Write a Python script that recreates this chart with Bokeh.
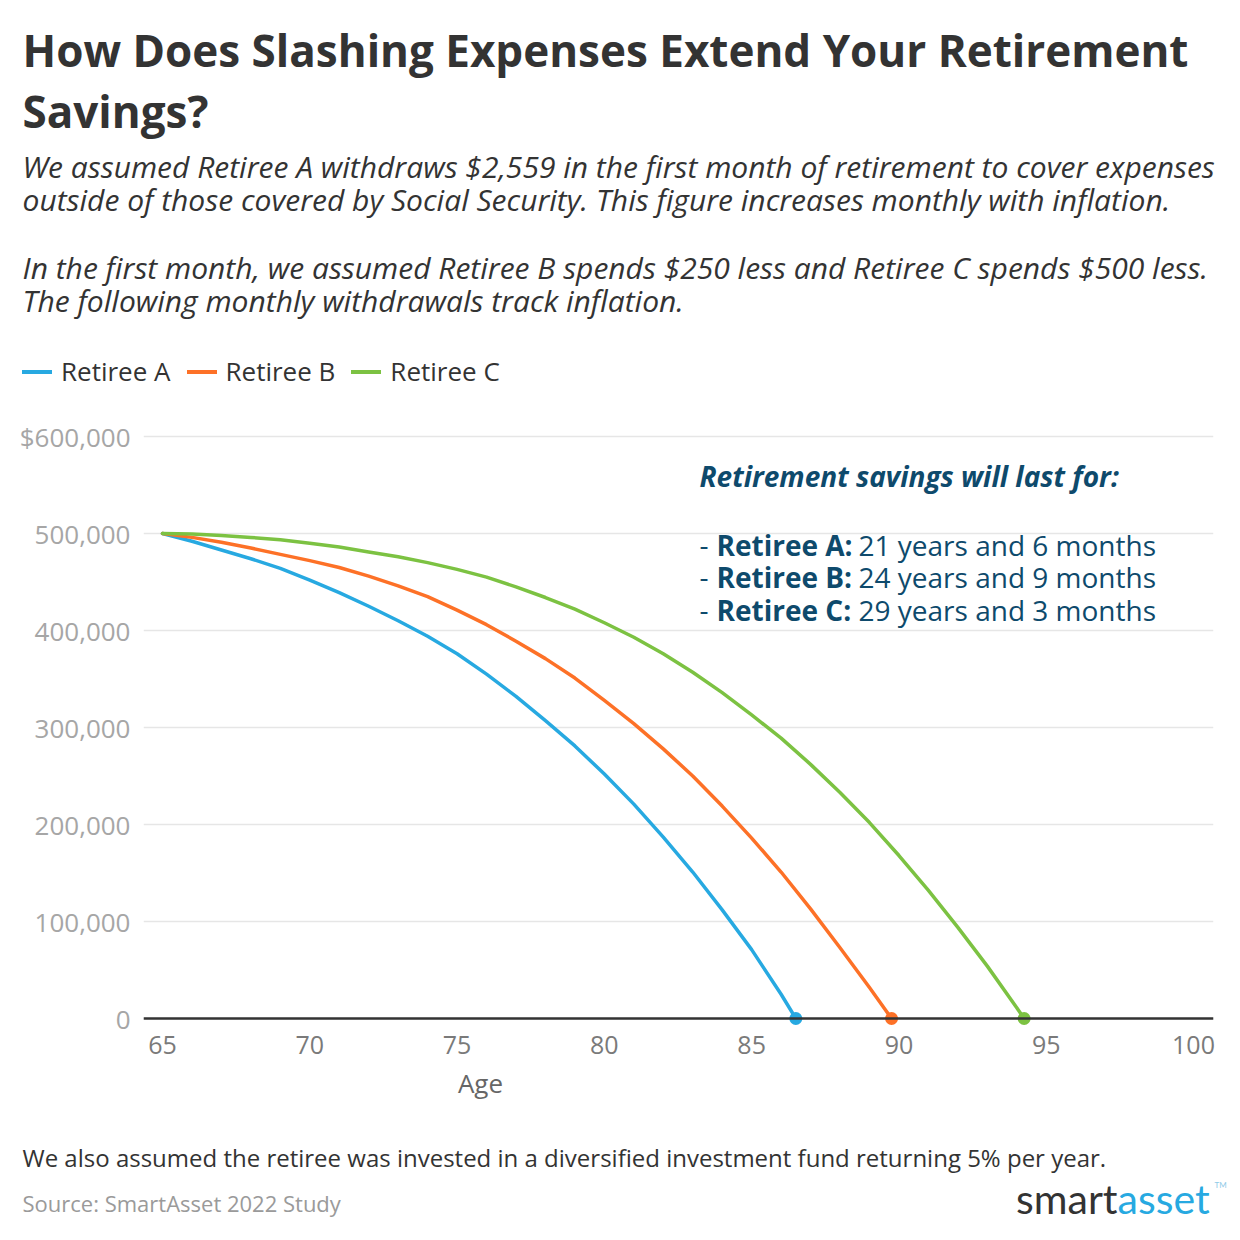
from bokeh.plotting import figure
from bokeh.layouts import column
from bokeh.models import Range1d, FixedTicker, Span, Label, Legend, LegendItem
from bokeh.embed import file_html
from bokeh.resources import INLINE

# ---------------- data ----------------
series_names = ["Retiree A", "Retiree B", "Retiree C"]
series_colors = ["#27a9e1", "#fd7127", "#7cc242"]

ages_a = [65, 66, 67, 68, 69, 70, 71, 72, 73, 74, 75, 76, 77, 78, 79, 80, 81, 82, 83, 84, 85, 86, 86.5]
savings_a = [500, 492, 483, 474, 464, 452, 439, 425, 410, 394, 376, 355, 332, 307, 281, 252, 221, 187, 151, 112, 71, 25, 0]

ages_b = [65, 66, 67, 68, 69, 70, 71, 72, 73, 74, 75, 76, 77, 78, 79, 80, 81, 82, 83, 84, 85, 86, 87, 88, 89, 89.75]
savings_b = [500, 496, 491, 485, 478.5, 472, 465, 456, 446, 435, 421, 406, 389, 371, 351, 328, 304, 278, 250, 219, 186, 151, 113, 73, 32, 0]

ages_c = [65, 66, 67, 68, 69, 70, 71, 72, 73, 74, 75, 76, 77, 78, 79, 80, 81, 82, 83, 84, 85, 86, 87, 88, 89, 90, 91, 92, 93, 94, 94.25]
savings_c = [500, 499.5, 498, 496, 493.5, 490, 486, 481, 476, 470, 463, 455, 445, 434, 422, 408, 393, 376, 357, 336, 313, 289, 262, 233, 202, 168, 132, 94, 54, 11, 0]

x_ticks = [65, 70, 75, 80, 85, 90, 95, 100]
y_ticks = [0, 100000, 200000, 300000, 400000, 500000, 600000]
y_tick_labels = ["0", "100,000", "200,000", "300,000", "400,000", "500,000", "$600,000"]

title_lines = ["How Does Slashing Expenses Extend Your Retirement", "Savings?"]
subtitle_lines = [
    "We assumed Retiree A withdraws $2,559 in the first month of retirement to cover expenses",
    "outside of those covered by Social Security. This figure increases monthly with inflation.",
    "In the first month, we assumed Retiree B spends $250 less and Retiree C spends $500 less.",
    "The following monthly withdrawals track inflation.",
]
x_axis_title = "Age"
note_heading = "Retirement savings will last for:"
note_names = ["Retiree A:", "Retiree B:", "Retiree C:"]
note_durations = ["21 years and 6 months", "24 years and 9 months", "29 years and 3 months"]
footnote = "We also assumed the retiree was invested in a diversified investment fund returning 5% per year."
source = "Source: SmartAsset 2022 Study"

# ---------------- layout constants ----------------
FONT = "Open Sans"
W = 1240
HEAD_H = 400          # header figure: canvas rows 0..400
MAIN_H = 662          # main figure: canvas rows 400..1062
FOOT_H = W - HEAD_H - MAIN_H
FL, FR, FT, FB = 143, 1213, 426, 1028  # plot frame edges on the full canvas
PX_PER_YEAR = (1193 - 162) / 35.0
PX_PER_K = (1018 - 436) / 600.0

x0 = 65 - (162 - FL) / PX_PER_YEAR
x1 = 100 + (FR - 1193) / PX_PER_YEAR
y0 = -(FB - 1018) / PX_PER_K * 1000
y1 = 600000 + (436 - FT) / PX_PER_K * 1000


def blank_fig(height, top):
    f = figure(width=W, height=height, output_backend="svg", toolbar_location=None,
               x_range=Range1d(0, W), y_range=Range1d(top + height, top),
               x_axis_type=None, y_axis_type=None, min_border=0, frame_align=False)
    f.outline_line_color = None
    f.grid.grid_line_color = None
    f.background_fill_color = "white"
    f.border_fill_color = "white"
    return f


def lab(fig, text, cx, cy, size, color, style="normal", align="left", baseline="alphabetic", font=FONT):
    fig.add_layout(Label(x=cx, y=cy, text=text, text_font=font, text_font_size=f"{size}px",
                         text_color=color, text_font_style=style, text_align=align,
                         text_baseline=baseline))


# ---------------- header: title, subtitle, legend ----------------
head = blank_fig(HEAD_H, 0)
lab(head, title_lines[0], 22, 49, 44, "#333333", "bold")
lab(head, title_lines[1], 22, 110, 44, "#333333", "bold")
for txt, yb in zip(subtitle_lines, [166, 199, 267, 300]):
    lab(head, txt, 22, yb, 30, "#333333", "italic")

nan = float("nan")
legend_renderers = [head.line(x=[nan, nan], y=[nan, nan], line_color=c, line_width=4, line_cap="round")
                    for c in series_colors]
legend = Legend(items=[LegendItem(label=n, renderers=[r]) for n, r in zip(series_names, legend_renderers)],
                location=(22, HEAD_H - 389), orientation="horizontal",
                padding=0, margin=0, spacing=16, label_standoff=9,
                glyph_width=30, glyph_height=25, label_height=25,
                label_text_font=FONT, label_text_font_size="26px", label_text_color="#333333",
                border_line_color=None, background_fill_alpha=0)
head.add_layout(legend)

# ---------------- main plot ----------------
p = figure(width=W, height=MAIN_H, output_backend="svg", toolbar_location=None,
           x_range=Range1d(x0, x1), y_range=Range1d(y0, y1),
           min_border_left=FL, min_border_right=W - FR,
           min_border_top=FT - HEAD_H, min_border_bottom=HEAD_H + MAIN_H - FB,
           frame_align=False)
p.outline_line_color = None
p.background_fill_color = "white"
p.border_fill_color = "white"

p.xaxis.ticker = FixedTicker(ticks=x_ticks)
p.xaxis.axis_line_color = None
p.xaxis.major_tick_line_color = None
p.xaxis.minor_tick_line_color = None
p.xaxis.major_label_text_font = FONT
p.xaxis.major_label_text_font_size = "25px"
p.xaxis.major_label_text_color = "#7a7a7a"
p.xaxis.major_label_standoff = 1

p.yaxis.ticker = FixedTicker(ticks=y_ticks)
p.yaxis.major_label_overrides = {t: l for t, l in zip(y_ticks, y_tick_labels)}
p.yaxis.axis_line_color = None
p.yaxis.major_tick_line_color = None
p.yaxis.minor_tick_line_color = None
p.yaxis.major_tick_out = 0
p.yaxis.major_tick_in = 0
p.yaxis.major_label_text_font = FONT
p.yaxis.major_label_text_font_size = "26px"
p.yaxis.major_label_text_color = "#a6a6a6"
p.yaxis.major_label_standoff = 13

p.xgrid.grid_line_color = None
p.ygrid.grid_line_color = "#e6e6e6"
p.ygrid.grid_line_width = 1.5

for ages, vals, col in [(ages_a, savings_a, series_colors[0]),
                        (ages_b, savings_b, series_colors[1]),
                        (ages_c, savings_c, series_colors[2])]:
    p.line(ages, [v * 1000 for v in vals], line_color=col,
           line_width=3.5, line_cap="round", line_join="round")

end_ages = [ages_a[-1], ages_b[-1], ages_c[-1]]
end_vals = [savings_a[-1] * 1000, savings_b[-1] * 1000, savings_c[-1] * 1000]
p.scatter(end_ages, end_vals, size=13, color=series_colors, line_color=None)

p.add_layout(Span(location=0, dimension="width", line_color="#333333", line_width=2.5))

# annotation inside the plot (screen units relative to the frame)
NOTE = "#0e4a6c"


def note(text, cx, cy, style="normal"):
    p.add_layout(Label(x=cx - FL, y=FB - cy, x_units="screen", y_units="screen", text=text,
                       text_font=FONT, text_font_size="28px", text_color=NOTE,
                       text_font_style=style, text_align="left", text_baseline="alphabetic"))


note(note_heading, 699, 475, "bold italic")
for i, (nm, du) in enumerate(zip(note_names, note_durations)):
    yb = 544 + i * 32.5
    note("-", 699, yb)
    note(nm, 716, yb, "bold")
    note(du, 858, yb)

# ---------------- footer ----------------
foot = blank_fig(FOOT_H, HEAD_H + MAIN_H)
lab(foot, x_axis_title, 480, 1082, 26, "#666666", "normal", "center", "middle")
lab(foot, footnote, 22, 1157, 24, "#333333")
lab(foot, source, 22, 1202, 22, "#9a9a9a")
lab(foot, "smart", 1117, 1198, 41, "#333333", "normal", "right", "alphabetic", "Lato")
lab(foot, "asset", 1117, 1198, 41, "#27a9e1", "normal", "left", "alphabetic", "Lato")
lab(foot, "TM", 1214, 1184, 8, "#8fcbe8", "normal", "left", "alphabetic", "Lato")

layout = column(head, p, foot, spacing=0)
open("out.html", "w").write(file_html(layout, INLINE))
